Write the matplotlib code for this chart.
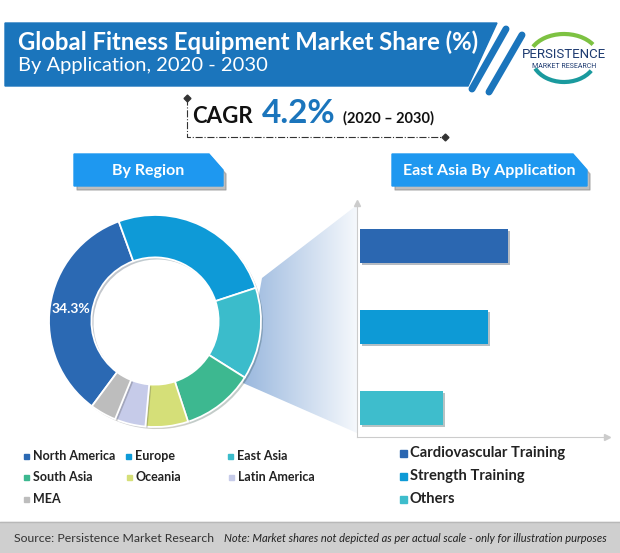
import numpy as np
import matplotlib
matplotlib.use("Agg")
import matplotlib.pyplot as plt
from matplotlib.patches import Polygon, Rectangle, Arc
from matplotlib.colors import LinearSegmentedColormap
import matplotlib.patheffects as pe

plt.rcParams["font.family"] = ["Lato", "DejaVu Sans"]

# data
regions = ["North America", "Europe", "East Asia", "South Asia",
           "Oceania", "Latin America", "MEA"]
region_share = [34.3, 25.5, 14.0, 11.0, 6.5, 4.7, 4.0]
region_colors = ["#2B69B3", "#0E9AD7", "#3BBCCB", "#3DB890",
                 "#D5DF78", "#C6CBE9", "#BDBDBD"]

applications = ["Cardiovascular Training", "Strength Training", "Others"]
app_values = [59, 51, 33]
app_colors = ["#2B67B1", "#0D9AD6", "#3EBDCC"]

W, H = 620, 553
BLUE = "#1B75BC"
fig = plt.figure(figsize=(6.2, 5.53), dpi=100)

# full-figure axes in pixel coordinates for the decorations
bg = fig.add_axes([0, 0, 1, 1], zorder=0)


def px_axes(x0, y0, x1, y1, z=2):
    return fig.add_axes([x0 / W, (H - y1) / H, (x1 - x0) / W, (y1 - y0) / H], zorder=z)


# header banner
bg.add_patch(Polygon([(5, 23), (497, 23), (468, 86), (5, 86)], color=BLUE, zorder=2))
bg.plot([506, 472], [29, 89], lw=5, color=BLUE, solid_capstyle="round", zorder=2)
bg.plot([522, 489], [35, 92], lw=5, color=BLUE, solid_capstyle="round", zorder=2)
bg.text(18, 42, "Global Fitness Equipment Market Share (%)", color="white",
        fontsize=17.2, fontweight="bold", va="center", zorder=3)
bg.text(18, 66, "By Application, 2020 - 2030", color="white",
        fontsize=14.5, va="center", zorder=3)

# logo
bg.add_patch(Arc((564, 58), 70, 48, theta1=200, theta2=335, color="#7DC242", lw=3, zorder=2))
bg.add_patch(Arc((564, 58), 64, 48, theta1=25, theta2=160, color="#1A9A9E", lw=3, zorder=2))
bg.text(564, 54, "PERSISTENCE", family=["Roboto", "DejaVu Sans"],
        fontsize=9.5, color="#1D3A70", ha="center", va="center", zorder=3)
bg.text(564, 67, "MARKET RESEARCH", family=["Roboto", "DejaVu Sans"],
        fontsize=5, color="#1D3A70", ha="center", va="center", zorder=3)

# CAGR block
bg.plot([187, 187, 445], [98, 137, 137], ls="-.", lw=0.8, color="#333333", zorder=2)
bg.plot([187, 445], [98, 137], ls="none", marker="D", ms=3.5, color="#333333", zorder=3)
bg.text(192, 123, "CAGR", fontsize=16, fontweight="bold", color="#111111", va="baseline")
bg.text(262, 123, "4.2%", fontsize=24, fontweight="bold", color=BLUE, va="baseline")
bg.text(343, 123, "(2020 \u2013 2030)", fontsize=10.5, fontweight="bold", color="#111111", va="baseline")

# section banners
BANNER = "#1E98F0"
for x0, x1, label in [(74, 223, "By Region"), (392, 587, "East Asia By Application")]:
    pts = [(x0, 154), (x1 - 14, 154), (x1, 170), (x1, 186), (x0, 186)]
    shadow = [(x + 3, y + 4) for x, y in pts]
    bg.add_patch(Polygon(shadow, color="#8A8A8A", alpha=0.55, zorder=1))
    bg.add_patch(Polygon(pts, color=BANNER, zorder=2))
    bg.text((x0 + x1) / 2, 171, label, color="white", fontsize=11.5,
            fontweight="bold", ha="center", va="center", zorder=3)

# zoom funnel from the ring to the bar chart
funnel = Polygon([(262, 278), (357, 205), (357, 433), (243, 383)],
                 facecolor="none", edgecolor="none")
bg.add_patch(funnel)
cmap = LinearSegmentedColormap.from_list("fun", ["#9AB8DE", "#F5F8FC"])
grad = np.linspace(0, 1, 256).reshape(1, -1)
im = bg.imshow(grad, cmap=cmap, extent=(243, 357, 433, 205), aspect="auto", zorder=1)
im.set_clip_path(funnel)

# left legend
legend_pos = [(26, 456), (128, 456), (230, 456),
              (26, 477), (129, 477), (231, 477),
              (26, 499)]
for (x, y), name, c in zip(legend_pos, regions, region_colors):
    bg.add_patch(Rectangle((x - 2.5, y - 2.5), 5, 5, color=c, zorder=2))
    bg.text(x + 7, y, name, fontsize=9, fontweight="bold", color="#222222", va="center")

# right legend
for i, (name, c) in enumerate(zip(applications, app_colors)):
    y = 453 + 23 * i
    bg.add_patch(Rectangle((400, y - 3.5), 7, 7, color=c, zorder=2))
    bg.text(410, y, name, fontsize=10.6, fontweight="bold", color="#222222", va="center")

# footer
bg.add_patch(Rectangle((0, 522), W, 31, color="#CFCFCF", zorder=1))
bg.plot([0, W], [522, 522], color="#B8B8B8", lw=1, zorder=2)
bg.text(14, 538, "Source: Persistence Market Research", fontsize=8.8,
        color="#333333", va="center", zorder=3)
bg.text(607, 538, "Note: Market shares not depicted as per actual scale - only for illustration purposes",
        fontsize=8, style="italic", color="#222222", ha="right", va="center", zorder=3)

bg.set_xlim(0, W)
bg.set_ylim(H, 0)
bg.axis("off")

# donut chart
ax_pie = px_axes(49, 215, 261, 427)
start = 110 + 3.6 * region_share[0]
wedges, _ = ax_pie.pie(region_share, colors=region_colors, startangle=start,
                       counterclock=False,
                       wedgeprops=dict(width=0.4, edgecolor="white", linewidth=1.3))
for w in wedges:
    w.set_path_effects([pe.SimplePatchShadow(offset=(1.5, -1.5), alpha=0.25), pe.Normal()])
mid = np.deg2rad(start - 1.8 * region_share[0])
ax_pie.text(0.8 * np.cos(mid), 0.8 * np.sin(mid), f"{region_share[0]}%", color="white",
            fontsize=10, fontweight="bold", ha="center", va="center")
ax_pie.set_xlim(-1, 1)
ax_pie.set_ylim(-1, 1)
ax_pie.axis("off")

# bar chart
ax_bar = px_axes(357, 203, 607, 437)
ypos = [2, 1, 0]
bars = ax_bar.barh(ypos, app_values, height=0.42, color=app_colors)
for b in bars:
    b.set_path_effects([pe.SimplePatchShadow(offset=(1.5, -2), alpha=0.3), pe.Normal()])
ax_bar.set_xlim(-1.2, 98.8)
ax_bar.set_ylim(-0.364, 2.525)
ax_bar.patch.set_alpha(0)
for s in ["top", "right"]:
    ax_bar.spines[s].set_visible(False)
for s in ["left", "bottom"]:
    ax_bar.spines[s].set_color("#CCCCCC")
ax_bar.set_xticks([])
ax_bar.set_yticks([])
ax_bar.plot([0], [1], marker="^", ms=4, color="#CCCCCC", transform=ax_bar.transAxes, clip_on=False)
ax_bar.plot([1], [0], marker=">", ms=4, color="#CCCCCC", transform=ax_bar.transAxes, clip_on=False)

fig.savefig("out.png", dpi=100)
